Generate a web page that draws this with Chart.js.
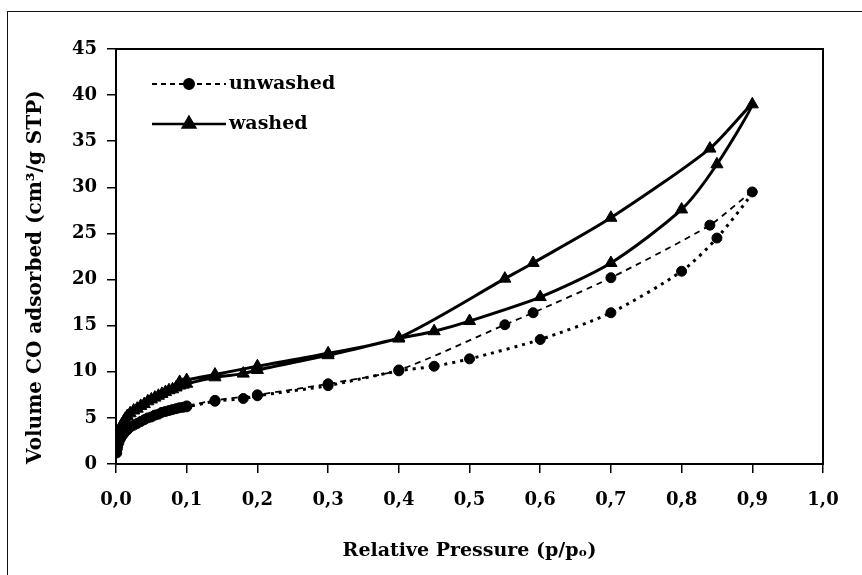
<!DOCTYPE html>
<html>
<head>
<meta charset="utf-8">
<script src="https://cdn.jsdelivr.net/npm/chart.js@4.4.1/dist/chart.umd.min.js"></script>
<style>
  html, body { margin: 0; padding: 0; background: #fff; }
  #wrap { position: relative; width: 862px; height: 575px; overflow: hidden; }
  #frame { position: absolute; left: 7px; top: 11px; width: 900px; height: 620px; border: 1.5px solid #111; }
  #chartCanva { position: absolute; left: 0; top: 0; }
</style>
</head>
<body>
<div id="wrap">
  <div id="frame"></div>
  <canvas id="chartCanva" width="862" height="575"></canvas>
</div>
<script>
// Isotherm branches: relative pressure p/po and CO volume (cm3/g STP)
const unwashedAdsP = [0.001, 0.002, 0.004, 0.006, 0.008, 0.01, 0.013, 0.016, 0.02, 0.025, 0.03, 0.035, 0.04, 0.045, 0.05, 0.055, 0.06, 0.065, 0.07, 0.075, 0.08, 0.085, 0.09, 0.095, 0.10, 0.14, 0.18, 0.20, 0.30, 0.40, 0.45, 0.50, 0.60, 0.70, 0.80, 0.85, 0.90];
const unwashedAdsV = [1.2, 1.7, 2.3, 2.7, 3.0, 3.2, 3.5, 3.7, 4.0, 4.2, 4.4, 4.6, 4.8, 5.0, 5.1, 5.3, 5.4, 5.6, 5.7, 5.8, 5.9, 6.0, 6.1, 6.15, 6.2, 6.8, 7.1, 7.4, 8.5, 10.1, 10.6, 11.4, 13.5, 16.4, 20.9, 24.5, 29.5];
const unwashedDesP = [0.84, 0.70, 0.59, 0.55, 0.40, 0.30, 0.20, 0.14, 0.10];
const unwashedDesV = [25.9, 20.2, 16.4, 15.1, 10.2, 8.7, 7.5, 6.9, 6.3];

const washedAdsP = [0.001, 0.002, 0.004, 0.006, 0.008, 0.01, 0.013, 0.016, 0.02, 0.025, 0.03, 0.035, 0.04, 0.045, 0.05, 0.055, 0.06, 0.065, 0.07, 0.075, 0.08, 0.085, 0.09, 0.095, 0.10, 0.14, 0.18, 0.20, 0.30, 0.40, 0.45, 0.50, 0.60, 0.70, 0.80, 0.85, 0.90];
const washedAdsV = [2.2, 2.6, 3.3, 3.8, 4.2, 4.5, 4.9, 5.2, 5.5, 5.8, 6.0, 6.3, 6.5, 6.8, 7.0, 7.2, 7.4, 7.6, 7.8, 8.0, 8.1, 8.3, 8.5, 8.6, 8.7, 9.4, 9.8, 10.2, 11.8, 13.6, 14.4, 15.5, 18.1, 21.8, 27.6, 32.5, 39.0];
const washedDesP = [0.84, 0.70, 0.59, 0.55, 0.40, 0.30, 0.20, 0.14, 0.10, 0.09];
const washedDesV = [34.2, 26.7, 21.8, 20.1, 13.7, 12.0, 10.6, 9.7, 9.1, 8.9];

const seriesNames = ["unwashed", "washed"];
const xTickLabels = ["0,0", "0,1", "0,2", "0,3", "0,4", "0,5", "0,6", "0,7", "0,8", "0,9", "1,0"];

const FONT = "'DejaVu Serif', serif";
Chart.defaults.font.family = FONT;
Chart.defaults.font.weight = "bold";
Chart.defaults.color = "#000";

// adsorption followed by desorption, so each sample is drawn as one loop
function toPoints(p1, v1, p2, v2) {
    const pts = p1.map((p, i) => ({ x: p, y: v1[i] }));
    return pts.concat(p2.map((p, i) => ({ x: p, y: v2[i] })));
}

const unwashedSplit = unwashedAdsP.length - 1;

// frame around the plot area
const plotFrame = {
    id: "plotFrame",
    afterDatasetsDraw(chart) {
        const { ctx, chartArea: a } = chart;
        ctx.save();
        ctx.strokeStyle = "#000";
        ctx.lineWidth = 2;
        ctx.strokeRect(a.left, a.top, a.right - a.left, a.bottom - a.top);
        ctx.restore();
    },
};

// legend drawn inside the plot: a short line with the marker in its middle
const lineLegend = {
    id: "lineLegend",
    afterDraw(chart) {
        const { ctx, chartArea: a } = chart;
        chart.data.datasets.forEach((ds, i) => {
            const y = a.top + 35 + i * 40;
            const x0 = a.left + 36;
            const x1 = a.left + 110;
            ctx.save();
            ctx.strokeStyle = "#000";
            ctx.fillStyle = "#000";
            ctx.lineWidth = ds.legendWidth;
            ctx.setLineDash(ds.legendDash);
            ctx.beginPath();
            ctx.moveTo(x0, y);
            ctx.lineTo(x1, y);
            ctx.stroke();
            ctx.setLineDash([]);
            Chart.helpers.drawPoint(ctx, {
                pointStyle: ds.pointStyle,
                radius: ds.pointRadius,
                borderWidth: 1,
                rotation: 0,
            }, (x0 + x1) / 2, y);
            ctx.font = "bold 19px " + FONT;
            ctx.textBaseline = "middle";
            ctx.textAlign = "left";
            ctx.fillText(ds.label, x1 + 3, y);
            ctx.restore();
        });
    },
};

new Chart(document.getElementById("chartCanva"), {
    type: "scatter",
    data: {
        datasets: [
            {
                label: seriesNames[0],
                data: toPoints(unwashedAdsP, unwashedAdsV, unwashedDesP, unwashedDesV),
                showLine: true,
                borderColor: "#000",
                backgroundColor: "#000",
                borderWidth: 2,
                borderDash: [5, 5],
                tension: 0.25,
                pointStyle: "circle",
                pointRadius: 5,
                pointBorderWidth: 1,
                legendDash: [5, 4],
                legendWidth: 2,
                segment: {
                    // adsorption branch heavier and dotted, desorption thin dashes
                    borderDash: (ctx) => (ctx.p0DataIndex < unwashedSplit ? [3, 5] : [6, 5]),
                    borderWidth: (ctx) => (ctx.p0DataIndex < unwashedSplit ? 3 : 1.8),
                },
            },
            {
                label: seriesNames[1],
                data: toPoints(washedAdsP, washedAdsV, washedDesP, washedDesV),
                showLine: true,
                borderColor: "#000",
                backgroundColor: "#000",
                borderWidth: 3,
                tension: 0.25,
                pointStyle: "triangle",
                pointRadius: 7,
                pointBorderWidth: 1,
                legendDash: [],
                legendWidth: 2.5,
            },
        ],
    },
    options: {
        responsive: false,
        animation: false,
        layout: { padding: { left: 20, top: 49, right: 39, bottom: 0 } },
        plugins: {
            legend: { display: false },
            tooltip: { enabled: false },
        },
        scales: {
            x: {
                type: "linear",
                min: 0,
                max: 1,
                afterFit: (scale) => { scale.height = 111; },
                border: { display: false },
                grid: { drawOnChartArea: false, drawTicks: true, tickLength: 9, color: "#000", lineWidth: 1.5 },
                ticks: {
                    stepSize: 0.1,
                    padding: 17,
                    font: { size: 18 },
                    callback: (value, index) => xTickLabels[index],
                },
                title: {
                    display: true,
                    text: "Relative Pressure (p/pₒ)",
                    font: { size: 19 },
                    padding: { top: 0, bottom: 13 },
                },
            },
            y: {
                min: 0,
                max: 45,
                afterFit: (scale) => { scale.width = 96; },
                border: { display: false },
                grid: { drawOnChartArea: false, drawTicks: true, tickLength: 9, color: "#000", lineWidth: 1.5 },
                ticks: { stepSize: 5, padding: 10, font: { size: 18 } },
                title: {
                    display: true,
                    align: "start",
                    text: "Volume CO adsorbed (cm³/g STP)",
                    font: { size: 20 },
                    padding: { top: 4, bottom: 0 },
                },
            },
        },
    },
    plugins: [plotFrame, lineLegend],
});
</script>
</body>
</html>
